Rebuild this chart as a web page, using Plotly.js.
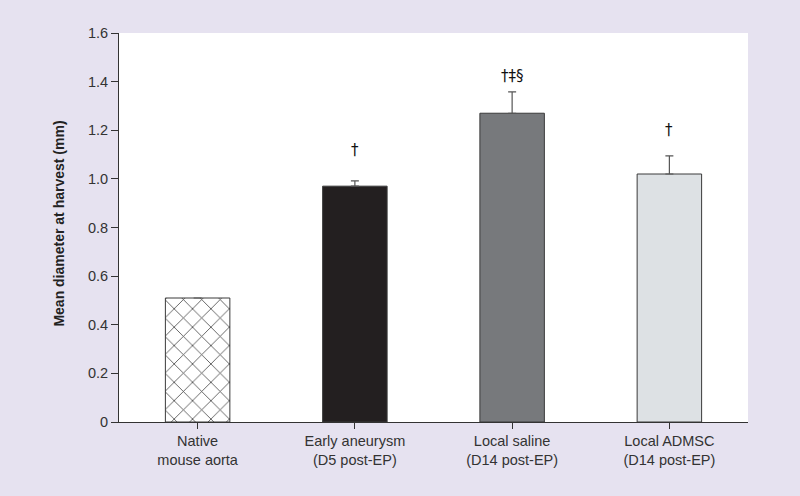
<!DOCTYPE html>
<html><head><meta charset="utf-8">
<script src="https://cdn.plot.ly/plotly-3.0.1.min.js"></script>
<style>html,body{margin:0;padding:0;background:#e6e2f0;}#c{width:800px;height:496px;}</style>
</head><body><div id="c"></div>
<script>
const categories = ["Native<br>mouse aorta","Early aneurysm<br>(D5 post-EP)","Local saline<br>(D14 post-EP)","Local ADMSC<br>(D14 post-EP)"];
const meanDiameter = [0.51, 0.97, 1.27, 1.02];
const errorUpper = [null, 0.022, 0.088, 0.075];
const significance = ["", "†", "†‡§", "†"];
const labelLevel = [null, 1.12, 1.425, 1.2];
const yTickVals = [0,0.2,0.4,0.6,0.8,1.0,1.2,1.4,1.6];
const yTickText = ["0","0.2","0.4","0.6","0.8","1.0","1.2","1.4","1.6"];

const barColors = ["#ffffff","#231f20","#77797c","#dde1e4"];
const patterns = ["x","","",""];

const trace = {
  type: "bar",
  x: categories,
  y: meanDiameter,
  width: 0.41,
  marker: {
    color: barColors,
    line: {color: "#3a3a3a", width: 1},
    pattern: {shape: patterns, fgcolor: "#222222", fgopacity: 1, bgcolor: "#ffffff", size: 13, solidity: 0.12, fillmode: "overlay"}
  },
  error_y: {type: "data", symmetric: false, array: errorUpper, arrayminus: errorUpper.map(()=>0), color: "#555555", thickness: 1.2, width: 4},
  hoverinfo: "skip"
};

const annotations = [];
categories.forEach((c,i)=>{
  if (significance[i]) annotations.push({x: c, y: labelLevel[i], xref: "x", yref: "y", text: significance[i], showarrow: false, font: {family: "DejaVu Sans", size: 15, color: "#111111"}});
});
annotations.push({xref: "paper", yref: "paper", x: -0.0954, y: 0.51, textangle: -90, showarrow: false, xanchor: "center", yanchor: "middle",
  text: "<b>Mean diameter at harvest (mm)</b>", font: {family: "Liberation Sans", size: 14, color: "#222"}});

const layout = {
  width: 800, height: 496,
  margin: {l: 119, r: 52, t: 33, b: 74, pad: 0},
  paper_bgcolor: "#e6e2f0",
  plot_bgcolor: "#ffffff",
  font: {family: "Liberation Sans", size: 14.5, color: "#333"},
  showlegend: false,
  xaxis: {
    type: "category", showgrid: false, zeroline: false,
    showline: true, linecolor: "#333", linewidth: 1,
    ticks: "outside", ticklen: 6, tickcolor: "#333", tickwidth: 1,
    tickfont: {family: "Liberation Sans", size: 14.5, color: "#333"}
  },
  yaxis: {
    range: [0, 1.6], showgrid: false, zeroline: false,
    showline: true, linecolor: "#333", linewidth: 1,
    ticks: "outside", ticklen: 7, tickcolor: "#333", tickwidth: 1,
    tickvals: yTickVals, ticktext: yTickText,
    tickfont: {family: "Liberation Sans", size: 14.5, color: "#333"}
  },
  annotations: annotations
};

Plotly.newPlot("c", [trace], layout, {staticPlot: true, displayModeBar: false});
</script></body></html>
